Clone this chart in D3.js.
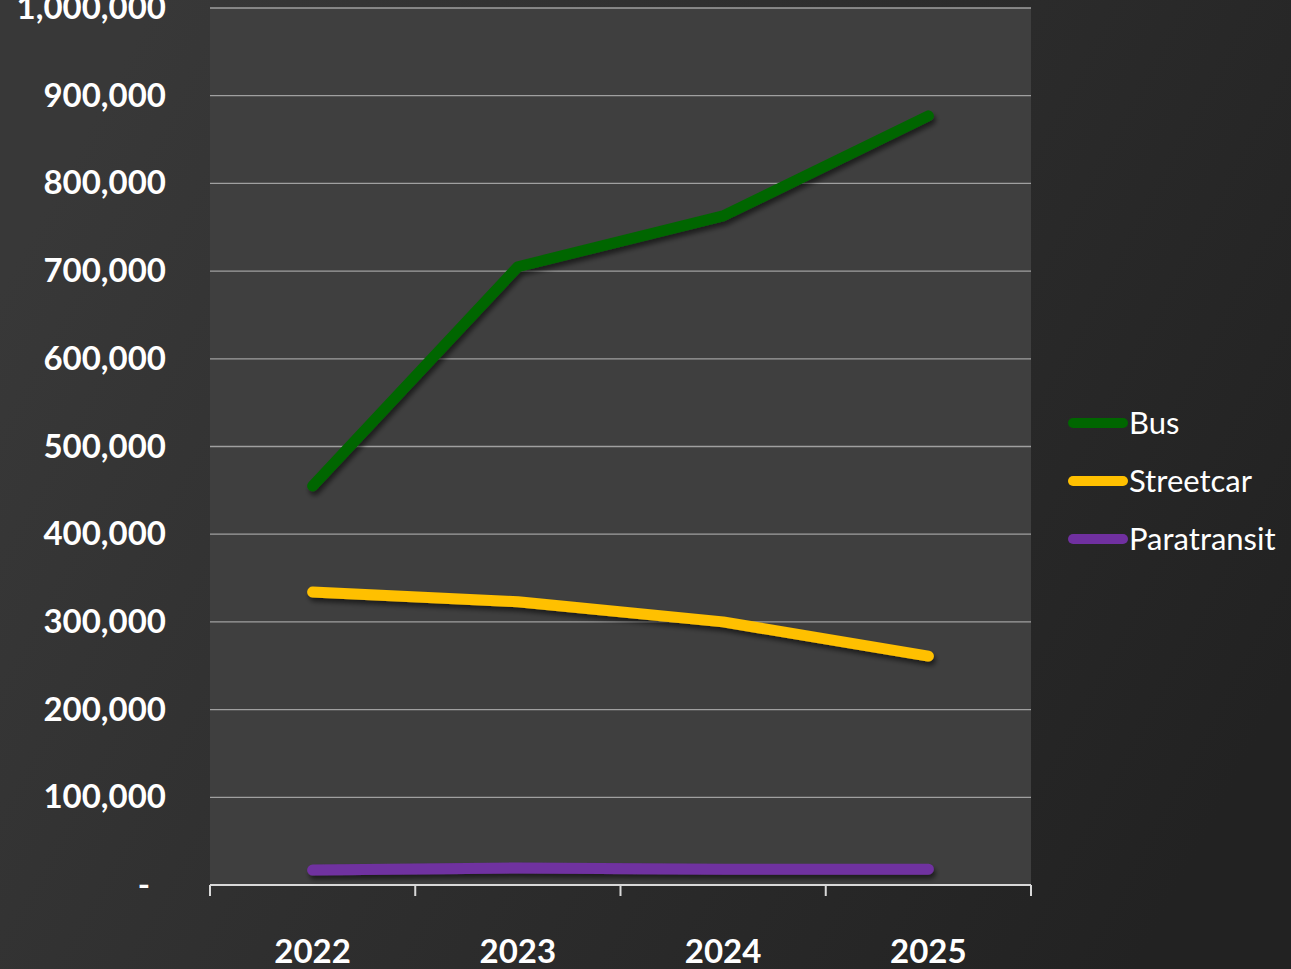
<!DOCTYPE html>
<html>
<head>
<meta charset="utf-8">
<script src="https://cdn.jsdelivr.net/npm/d3@7"></script>
<style>
  html, body { margin: 0; padding: 0; overflow: hidden; background: #2b2b2b; }
  text { font-family: Lato, "Open Sans", sans-serif; }
</style>
</head>
<body>
<script>
// ridership per year
var years = ["2022", "2023", "2024", "2025"];
var bus = [455000, 705000, 763000, 877000];
var streetcar = [334000, 323000, 300000, 261000];
var paratransit = [17000, 19500, 18000, 18000];
var seriesNames = ["Bus", "Streetcar", "Paratransit"];
var seriesColors = ["#006600", "#ffc000", "#7030a0"];
var yTicks = [0, 100000, 200000, 300000, 400000, 500000, 600000, 700000, 800000, 900000, 1000000];

var WIDTH = 1291, HEIGHT = 969;
// plot box (don't call these "top" - clashes with window.top)
var plotL = 210, plotR = 1031, plotT = 8, plotB = 885;

var svg = d3.select("body").append("svg")
    .attr("width", WIDTH)
    .attr("height", HEIGHT);

var defs = svg.append("defs");
var bg = defs.append("linearGradient").attr("id", "bg")
    .attr("x1", "0").attr("y1", "0.3").attr("x2", "1").attr("y2", "0.7");
bg.append("stop").attr("offset", "0").attr("stop-color", "#383838");
bg.append("stop").attr("offset", "1").attr("stop-color", "#222222");

var shadow = defs.append("filter").attr("id", "shadow")
    .attr("filterUnits", "userSpaceOnUse")
    .attr("x", 0).attr("y", 0).attr("width", WIDTH).attr("height", HEIGHT);
shadow.append("feDropShadow")
    .attr("dx", 2).attr("dy", 4).attr("stdDeviation", 2.5)
    .attr("flood-color", "#000").attr("flood-opacity", 0.55);

svg.append("rect").attr("width", WIDTH).attr("height", HEIGHT).attr("fill", "url(#bg)");
svg.append("rect")
    .attr("x", plotL).attr("y", plotT)
    .attr("width", plotR - plotL).attr("height", plotB - plotT)
    .attr("fill", "#3f3f3f");

var x = d3.scaleBand().domain(years).range([plotL, plotR]);
var y = d3.scaleLinear().domain([0, 1000000]).range([plotB, plotT]);

// gridlines
svg.append("g").selectAll("line")
  .data(yTicks.filter(function(d){ return d > 0; }))
  .join("line")
    .attr("x1", plotL).attr("x2", plotR)
    .attr("y1", function(d){ return y(d); })
    .attr("y2", function(d){ return y(d); })
    .attr("stroke", "#a0a0a0")
    .attr("stroke-width", 1.3);

// y labels
var fmt = d3.format(",");
svg.append("g").selectAll("text")
  .data(yTicks)
  .join("text")
    .attr("x", function(d){ return d === 0 ? 150 : 166; })
    .attr("y", function(d){ return y(d) + 11; })
    .attr("text-anchor", "end")
    .attr("fill", "#ffffff")
    .attr("font-size", 33)
    .attr("font-weight", "bold")
    .text(function(d){ return d === 0 ? "-" : fmt(d); });

// x axis labels
var xAxis = svg.append("g")
    .attr("transform", "translate(0," + plotB + ")")
    .call(d3.axisBottom(x).tickSize(0).tickPadding(55).tickSizeOuter(0));
xAxis.select(".domain").remove();
xAxis.selectAll("text")
    .attr("fill", "#ffffff")
    .attr("font-size", 33)
    .attr("font-weight", "bold")
    .attr("font-family", "Lato, 'Open Sans', sans-serif");

svg.append("line")
    .attr("x1", plotL).attr("x2", plotR)
    .attr("y1", plotB).attr("y2", plotB)
    .attr("stroke", "#d9d9d9").attr("stroke-width", 2);
var bounds = years.map(function(d){ return x(d); }).concat([plotR]);
svg.append("g").selectAll("line")
  .data(bounds)
  .join("line")
    .attr("x1", function(d){ return d; }).attr("x2", function(d){ return d; })
    .attr("y1", plotB).attr("y2", plotB + 11)
    .attr("stroke", "#d9d9d9").attr("stroke-width", 2);

// lines
var allSeries = [bus, streetcar, paratransit];
var line = d3.line()
    .x(function(d, i){ return x(years[i]) + x.bandwidth() / 2; })
    .y(function(d){ return y(d); });

svg.append("g").selectAll("path")
  .data(allSeries)
  .join("path")
    .attr("d", line)
    .attr("fill", "none")
    .attr("stroke", function(d, i){ return seriesColors[i]; })
    .attr("stroke-width", 11)
    .attr("stroke-linecap", "round")
    .attr("stroke-linejoin", "round")
    .attr("filter", "url(#shadow)");

// legend
var legend = svg.append("g").selectAll("g")
  .data(seriesNames)
  .join("g")
    .attr("transform", function(d, i){ return "translate(1073," + (423 + i * 58) + ")"; });
legend.append("line")
    .attr("x1", 0).attr("x2", 50)
    .attr("stroke", function(d, i){ return seriesColors[i]; })
    .attr("stroke-width", 10)
    .attr("stroke-linecap", "round");
legend.append("text")
    .attr("x", 56).attr("y", 11)
    .attr("fill", "#ffffff")
    .attr("font-size", 31)
    .text(function(d){ return d; });
</script>
</body>
</html>
